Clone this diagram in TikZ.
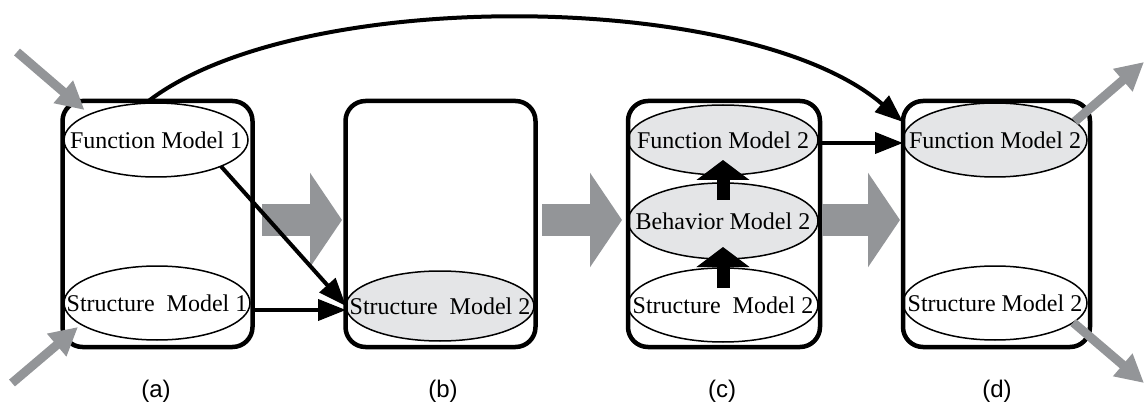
\documentclass[tikz,border=0pt]{standalone}
\usepackage{fontspec}
\setmainfont{Liberation Serif}
\newfontfamily\labelfont{Liberation Sans}
\usetikzlibrary{arrows.meta,shapes.geometric}
\definecolor{arrowgray}{HTML}{939598}
\definecolor{modelfill}{HTML}{E4E5E7}
% model names may be wider than their ellipse: keep them out of the shape size
\newcommand\modeltext[1]{\makebox[0pt]{#1}}
\begin{document}
\begin{tikzpicture}[x=1pt,y=1pt,
  box/.style={draw, line width=4.5pt, rounded corners=20pt, minimum width=190pt,
    minimum height=246pt, inner sep=0pt, outer sep=0pt},
  model/.style={ellipse, draw, line width=1.5pt, fill=white, inner sep=0pt, outer sep=0pt,
    minimum width=186pt, minimum height=74pt, font=\fontsize{24}{28}\selectfont},
  shaded/.style={model, fill=modelfill},
  link/.style={line width=4pt, -{Triangle[length=28pt,width=21pt]}},
  stage/.style={line width=32pt, arrowgray, -{Triangle[length=32pt,width=93pt]}},
  lift/.style={line width=13pt, -{Triangle[length=20pt,width=52pt]}},
  io/.style={line width=9pt, arrowgray, -{Triangle[length=28pt,width=28pt]}},
  caption/.style={font=\labelfont\fontsize{24}{28}\selectfont}
]
\useasboundingbox (0,0) rectangle (1146,405);

% models inside each stage
\node[model, minimum width=184pt] (FA) at (156,265) {\modeltext{Function Model 1}};
\node[model] (SA) at (157,102) {\modeltext{Structure\ \ Model 1}};
\node[shaded, minimum width=188pt, minimum height=70pt] (SB) at (440,99) {\modeltext{Structure\ \ Model 2}};
\node[shaded, minimum width=190pt, minimum height=70pt] (FC) at (723,265) {\modeltext{Function Model 2}};
\node[shaded, minimum width=190pt, minimum height=76pt] (BC) at (723,184) {\modeltext{Behavior Model 2}};
\node[model, minimum width=190pt] (SC) at (723,100) {\modeltext{Structure\ \ Model 2}};
\node[shaded, minimum width=184pt] (FD) at (995,265) {\modeltext{Function Model 2}};
\node[model, minimum width=184pt] (SD) at (995,102) {\modeltext{Structure Model 2}};

% stage containers
\node[box] (A) at (157.5,181) {};
\node[box] (B) at (440.5,181) {};
\node[box, minimum width=192pt] (C) at (724,181) {};
\node[box, minimum width=187pt] (D) at (996.5,181) {};

% transitions between stages
\draw[stage, shorten <=9.5pt, shorten >=3.5pt] ([yshift=4pt]A.east) -- ([yshift=4pt]B.west);
\draw[stage, shorten <=6.5pt, shorten >=6pt] ([yshift=4pt]B.east) -- ([yshift=4pt]C.west);
\draw[stage, shorten <=2pt, shorten >=3pt] ([yshift=4pt]C.east) -- ([yshift=4pt]D.west);

% dependencies between models
\draw[link] ([xshift=-9pt]A.north) .. controls (300,420) and (750,415) .. ([yshift=-21pt]D.north west);
\draw[link] (FA.-22) -- (SB.west);
\coordinate (SBin) at ([yshift=-4pt]SB.west);
\draw[link] (A.east |- SBin) -- (SBin);
\coordinate (FCout) at ([yshift=-3pt]FC.east);
\draw[link] (FCout) -- (D.west |- FCout);

% derivation inside stage (c)
\draw[lift] ([yshift=17pt]SC.center) -- ([yshift=-26pt]BC.center);
\draw[lift] ([yshift=21pt]BC.center) -- ([yshift=-20pt]FC.center);

% inputs and outputs
\coordinate (inTop) at (17,353);
\coordinate (inBot) at (12,22);
\coordinate (outTop) at (1144,343);
\coordinate (outBot) at (1144,22);
\draw[io] (inTop) -- ([xshift=22pt,yshift=-9pt]A.north west);
\draw[io] (inBot) -- ([xshift=15.5pt,yshift=20pt]A.south west);
\draw[io] (FD.13) -- (outTop);
\draw[io] (SD.-14) -- (outBot);

% stage captions
\node[caption] (la) at (156,14) {(a)};
\node[caption] (lb) at (443,14) {(b)};
\node[caption] (lc) at (722,14) {(c)};
\node[caption] (ld) at (997,14) {(d)};
\end{tikzpicture}
\end{document}
